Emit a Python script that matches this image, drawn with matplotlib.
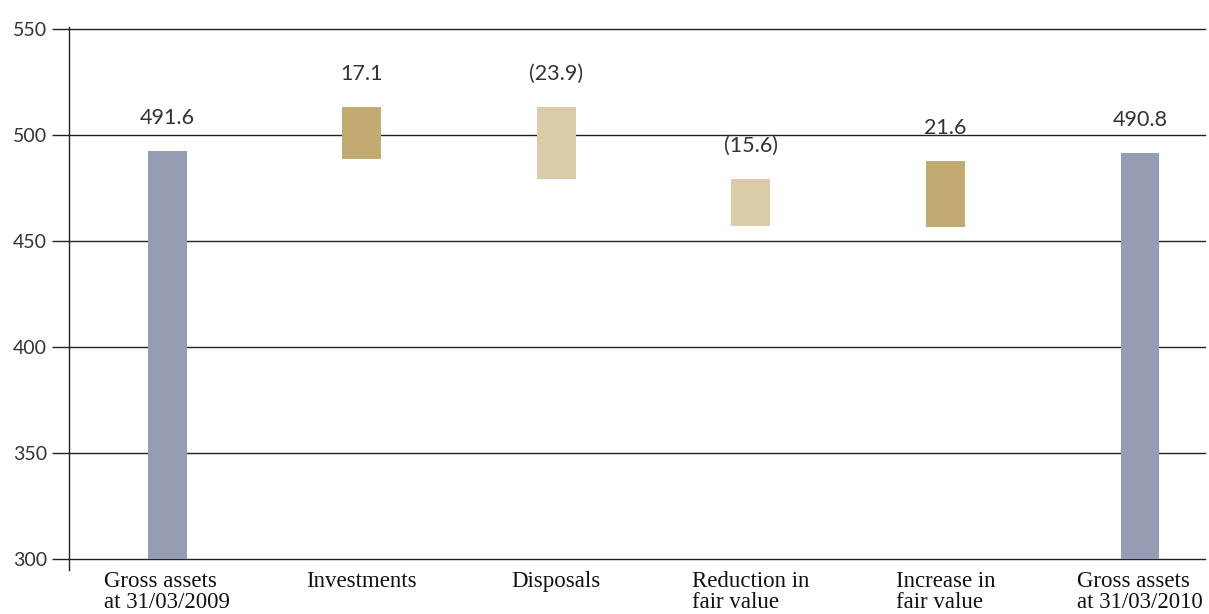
import matplotlib
matplotlib.use("Agg")
import matplotlib.pyplot as plt

categories = ["Gross assets\nat 31/03/2009", "Investments", "Disposals",
              "Reduction in\nfair value", "Increase in\nfair value",
              "Gross assets\nat 31/03/2010"]
value_labels = ["491.6", "17.1", "(23.9)", "(15.6)", "21.6", "490.8"]
bar_bottoms = [300.0, 488.8, 479.4, 457.2, 456.7, 300.0]
bar_tops = [492.4, 513.2, 513.2, 479.2, 487.7, 491.5]
bar_kinds = ["total", "increase", "decrease", "decrease", "increase", "total"]
y_ticks = [300, 350, 400, 450, 500, 550]

kind_colors = {"total": "#959DB5", "increase": "#C1AB73", "decrease": "#DACCA8"}
text_color = "#333333"
num_font = dict(family=["Lato", "DejaVu Sans"], weight="normal")

fig = plt.figure(figsize=(12.09, 6.14), dpi=100)
ax = fig.add_axes([0.0571, 0.0896, 0.9396, 0.8632])

x = list(range(len(categories)))
heights = [t - b for t, b in zip(bar_tops, bar_bottoms)]
colors = [kind_colors[k] for k in bar_kinds]
ax.bar(x, heights, bottom=bar_bottoms, width=0.2, color=colors, zorder=3)

ax.set_ylim(300, 550)
ax.set_xlim(-0.504, 5.334)
ax.set_yticks(y_ticks)
ax.set_yticklabels([str(v) for v in y_ticks], color=text_color, fontsize=14, **num_font)
ax.tick_params(axis="y", length=12, width=1.0, color="#222222", pad=4)
ax.set_xticks([])
for s in ax.spines.values():
    s.set_visible(False)
ax.yaxis.grid(True, color="#222222", linewidth=1.0, zorder=1)
ax.set_axisbelow(True)
for gl in ax.get_ygridlines():
    gl.set_clip_on(False)

# vertical axis line extending slightly beyond the plot
ax.plot([0, 0], [-0.021, 1.004], transform=ax.transAxes, color="#222222",
        linewidth=1.0, clip_on=False, zorder=4)

for xi, top, lab in zip(x, bar_tops, value_labels):
    ax.annotate(lab, (xi, top), xytext=(0, 19.5), textcoords="offset points",
                ha="center", va="baseline", fontsize=15.5, color=text_color, **num_font)

for xi, cat in zip(x, categories):
    ax.annotate(cat, (xi, 0), xycoords=("data", "axes fraction"),
                xytext=(0, -9), textcoords="offset points",
                ha="center", va="top", multialignment="left",
                fontsize=16.5, family="Liberation Serif", color="#111111",
                linespacing=1.0)

fig.savefig("out.png", dpi=100)
